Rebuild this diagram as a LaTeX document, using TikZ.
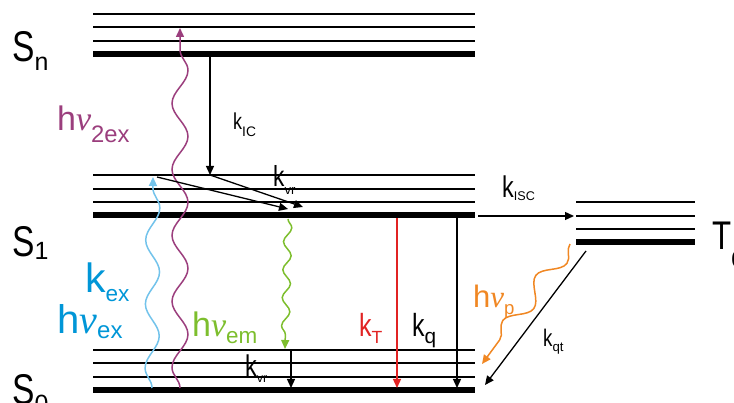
\documentclass[tikz,border=0pt]{standalone}
\usepackage{fontspec}
\setmainfont{Liberation Sans}
\newfontfamily\nufont{Liberation Serif}
\usepackage{graphicx}
\usetikzlibrary{arrows.meta}
\usetikzlibrary{decorations.pathmorphing}

\definecolor{twophot}{RGB}{155,62,125}
\definecolor{exblue}{RGB}{0,150,215}
\definecolor{waveblue}{RGB}{115,195,235}
\definecolor{emgreen}{RGB}{125,190,45}
\definecolor{tred}{RGB}{225,35,35}
\definecolor{phosorange}{RGB}{240,135,35}

% subscript: [scale]{drop}{text}
\newcommand{\lowsub}[3][.58]{\raisebox{-#2em}{\scalebox{#1}{#3}}}
\newcommand{\lsize}[1]{\fontsize{#1}{#1}\selectfont}
\newcommand{\narrow}[1]{\scalebox{.78}[1]{#1}}
\newcommand{\hnu}{h{\nufont\itshape ν}}

\begin{document}
\begin{tikzpicture}[x=1pt,y=-1pt,>={Triangle[length=9pt,width=8pt]},
		level/.style={line width=1.8pt},
		ground/.style={line width=6pt},
		rate/.style={->,line width=1.3pt},
		wave/.style 2 args={->,line width=1.5pt,decorate,
			decoration={snake,amplitude=#1,segment length=#2,post length=9pt}},
		txt/.style={anchor=base west,inner sep=0pt}]
				\useasboundingbox (0,0) rectangle (734,403);
				
				% levels S_n, S_1, S_0
				\foreach \y in {14,27,41,175,189,202,350,363,377}
					\draw[level] (93,\y) -- (475,\y);
				\foreach \y in {54,215,390}
					\draw[ground] (93,\y) -- (475,\y);
				
				% triplet
				\foreach \y in {202,216,229}
					\draw[level] (576,\y) -- (695,\y);
				\draw[ground] (576,242) -- (695,242);
				
				\node[txt] (Sn) at (12,62) {\lsize{43}\narrow{S}\lowsub{.2}{n}};
				\node[txt] (S1) at (12,257) {\lsize{43}\narrow{S}\lowsub{.05}{1}};
				\node[txt] (S0) at (12,404) {\lsize{43}\narrow{S}\lowsub{.2}{0}};
				\node[txt] (T0) at (712,250) {\lsize{40}\narrow{T}\lowsub{.45}{0}};
				
				\coordinate (exA) at (152,388);
				\coordinate (exB) at (153,177);
				\coordinate (tpA) at (180,388);
				\coordinate (tpB) at (180,28);
				\coordinate (icA) at (210,57);
				\coordinate (icB) at (210,175);
				\coordinate (vrA) at (157,177);
				\coordinate (vrB) at (288,209);
				\coordinate (vrC) at (303,207);
				\coordinate (emA) at (288,219);
				\coordinate (emB) at (285,349);
				\coordinate (vrD) at (291,351);
				\coordinate (vrE) at (291,388);
				\coordinate (tA) at (397,218);
				\coordinate (tB) at (397,388);
				\coordinate (qA) at (457,218);
				\coordinate (qB) at (457,388);
				\coordinate (iscA) at (478,216);
				\coordinate (iscB) at (574,216);
				\coordinate (pA) at (570,244);
				\coordinate (pB) at (482,364);
				\coordinate (qtA) at (586,251);
				\coordinate (qtB) at (485,385);
				
				% absorption
				\draw[wave={7pt}{64pt},color=waveblue] (exA) -- (exB);
				\draw[wave={8pt}{66pt},color=twophot] (tpA) -- (tpB);
				\node[txt,text=exblue] (kex) at (85,293) {\lsize{41}k\lowsub[.55]{.2}{ex}};
				\node[txt,text=exblue] (hvex) at (57,334) {\lsize{40}\hnu\lowsub[.6]{.12}{ex}};
				\node[txt,text=twophot] (hv2ex) at (57,131) {\lsize{34}\hnu\lowsub[.7]{.35}{2ex}};
				
				% relaxation
				\draw[rate] (icA) -- (icB);
				\node[txt] (kIC) at (233,130) {\lsize{23}\narrow{k}\lowsub[.6]{.3}{IC}};
				\draw[rate] (vrA) -- (vrB);
				\draw[rate] (icB) -- (vrC);
				\node[txt] (kvrS) at (273,187) {\lsize{29}\narrow{k}\lowsub[.45]{.25}{vr}};
				\draw[rate] (vrD) -- (vrE);
				\node[txt] (kvrG) at (245,377) {\lsize{30}\narrow{k}\lowsub[.42]{.2}{vr}};
				
				% emission and decay
				\draw[wave={4pt}{28pt},color=emgreen] (emA) -- (emB);
				\node[txt,text=emgreen] (hvem) at (192,337) {\lsize{34}\hnu\lowsub[.66]{.2}{em}};
				\draw[rate,color=tred] (tA) -- (tB);
				\node[txt,text=tred] (kT) at (359,337) {\lsize{32}\narrow{k}\lowsub[.55]{.2}{T}};
				\draw[rate] (qA) -- (qB);
				\node[txt] (kq) at (412,337) {\lsize{32}\narrow{k}\lowsub[.65]{.2}{q}};
				
				% triplet pathways
				\draw[rate] (iscA) -- (iscB);
				\node[txt] (kISC) at (502,198) {\lsize{30}\narrow{k}\lowsub[.42]{.08}{ISC}};
				\draw[wave={9pt}{56pt},color=phosorange] (pA) -- (pB);
				\node[txt,text=phosorange] (hvp) at (473,308) {\lsize{31}\hnu\lowsub[.6]{.2}{p}};
				\draw[rate] (qtA) -- (qtB);
				\node[txt] (kqt) at (543,347) {\lsize{24}\narrow{k}\lowsub[.55]{.2}{qt}};
			\end{tikzpicture}
\end{document}
